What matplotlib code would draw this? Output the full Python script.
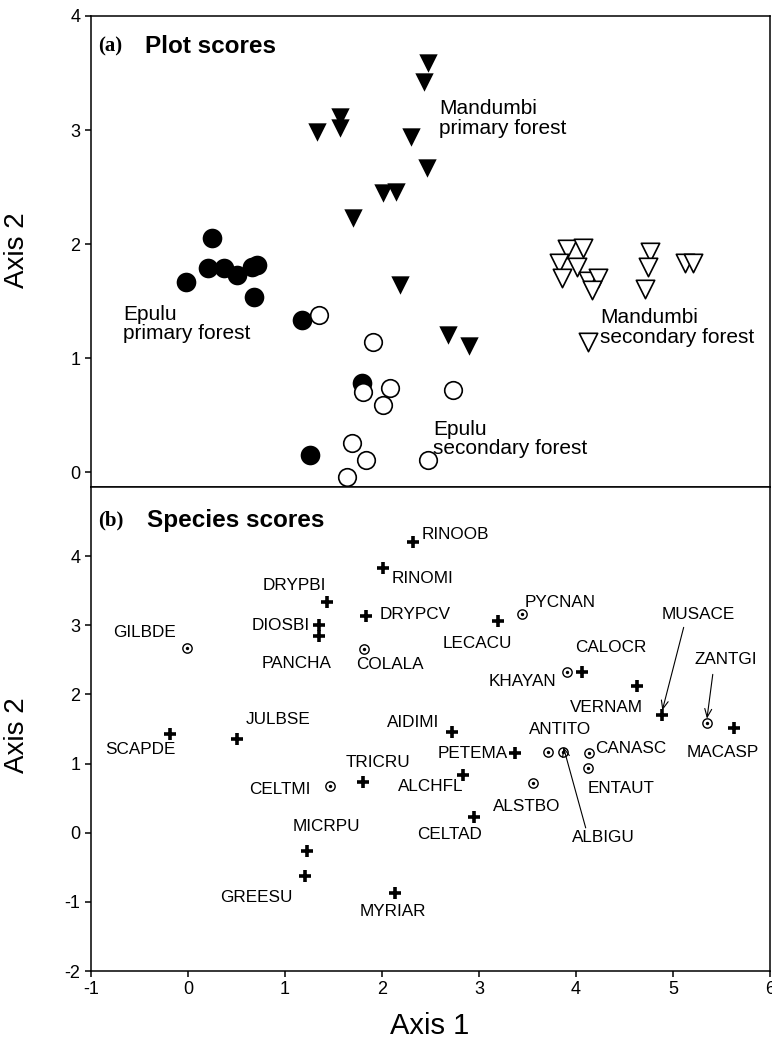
import matplotlib
matplotlib.use('Agg')
import matplotlib.pyplot as plt
from matplotlib import font_manager

# pick a narrow sans for ticks / axis titles if there is one
def has_font(name):
    try:
        font_manager.findfont(name, fallback_to_default=False)
        return True
    except Exception:
        return False

SANS = 'Liberation Sans'
NARROW = 'Liberation Sans Narrow' if has_font('Liberation Sans Narrow') else SANS
plt.rcParams['font.family'] = [SANS, 'DejaVu Sans']
plt.rcParams['axes.unicode_minus'] = False

# ---- (a) plot scores ----
mand_prim_x = [2.47, 2.43, 1.33, 1.57, 1.57, 2.30, 2.46, 2.01, 2.14, 1.70, 2.19, 2.68, 2.90]
mand_prim_y = [3.59, 3.42, 2.98, 3.11, 3.02, 2.94, 2.67, 2.45, 2.46, 2.23, 1.64, 1.20, 1.11]

epulu_prim_x = [0.25, -0.02, 0.21, 0.37, 0.50, 0.66, 0.71, 0.68, 1.18, 1.79, 1.26]
epulu_prim_y = [2.05, 1.67, 1.79, 1.79, 1.73, 1.80, 1.82, 1.54, 1.33, 0.78, 0.15]

epulu_sec_x = [1.35, 1.91, 1.80, 2.08, 2.01, 1.69, 1.84, 1.64, 2.47, 2.73]
epulu_sec_y = [1.38, 1.14, 0.70, 0.74, 0.59, 0.26, 0.11, -0.04, 0.11, 0.72]

mand_sec_x = [3.91, 4.07, 3.82, 4.01, 3.86, 4.12, 4.23, 4.16, 4.76, 4.74, 4.71, 5.12, 5.21, 4.12]
mand_sec_y = [1.96, 1.97, 1.83, 1.80, 1.70, 1.68, 1.70, 1.60, 1.93, 1.80, 1.61, 1.83, 1.83, 1.14]

# ---- (b) species scores ----
sp_names = ['RINOOB', 'RINOMI', 'DRYPBI', 'DIOSBI', 'PANCHA', 'DRYPCV', 'GILBDE', 'COLALA',
            'PYCNAN', 'LECACU', 'CALOCR', 'KHAYAN', 'VERNAM', 'MUSACE', 'ZANTGI', 'MACASP',
            'ANTITO', 'ALBIGU', 'CANASC', 'ENTAUT', 'ALSTBO', 'CELTAD', 'PETEMA', 'AIDIMI',
            'ALCHFL', 'TRICRU', 'CELTMI', 'JULBSE', 'SCAPDE', 'MICRPU', 'GREESU', 'MYRIAR']
sp_x = [2.32, 2.01, 1.43, 1.35, 1.35, 1.84, -0.01, 1.81,
        3.44, 3.20, 4.06, 3.91, 4.63, 4.89, 5.35, 5.63,
        3.71, 3.87, 4.13, 4.12, 3.56, 2.95, 3.37, 2.72,
        2.83, 1.80, 1.46, 0.51, -0.19, 1.23, 1.21, 2.13]
sp_y = [4.20, 3.83, 3.33, 3.01, 2.84, 3.13, 2.67, 2.65,
        3.16, 3.06, 2.33, 2.32, 2.12, 1.70, 1.58, 1.52,
        1.17, 1.17, 1.16, 0.93, 0.72, 0.23, 1.16, 1.46,
        0.84, 0.74, 0.67, 1.36, 1.43, -0.26, -0.62, -0.87]
# 'p' = plus, 'd' = circled dot
sp_kind = ['p', 'p', 'p', 'p', 'p', 'p', 'd', 'd',
           'd', 'p', 'p', 'd', 'p', 'p', 'd', 'p',
           'd', 'd', 'd', 'd', 'd', 'p', 'p', 'p',
           'p', 'p', 'd', 'p', 'p', 'p', 'p', 'p']

# label placement (x, y, ha) in data units
sp_label = {
    'RINOOB': (2.41, 4.32, 'left'), 'RINOMI': (2.10, 3.67, 'left'),
    'DRYPBI': (1.42, 3.57, 'right'), 'DIOSBI': (1.26, 3.00, 'right'),
    'PANCHA': (1.48, 2.45, 'right'), 'DRYPCV': (1.98, 3.16, 'left'),
    'GILBDE': (-0.12, 2.90, 'right'), 'COLALA': (1.73, 2.43, 'left'),
    'PYCNAN': (3.47, 3.33, 'left'), 'LECACU': (2.63, 2.74, 'left'),
    'CALOCR': (3.99, 2.68, 'left'), 'KHAYAN': (3.80, 2.19, 'right'),
    'VERNAM': (3.94, 1.81, 'left'), 'MUSACE': (4.88, 3.16, 'left'),
    'ZANTGI': (5.22, 2.51, 'left'), 'MACASP': (5.14, 1.16, 'left'),
    'ANTITO': (3.51, 1.49, 'left'), 'ALBIGU': (3.96, -0.07, 'left'),
    'CANASC': (4.20, 1.22, 'left'), 'ENTAUT': (4.12, 0.64, 'left'),
    'ALSTBO': (3.14, 0.38, 'left'), 'CELTAD': (2.36, -0.03, 'left'),
    'PETEMA': (2.57, 1.14, 'left'), 'AIDIMI': (2.05, 1.59, 'left'),
    'ALCHFL': (2.16, 0.67, 'left'), 'TRICRU': (1.62, 1.01, 'left'),
    'CELTMI': (0.63, 0.62, 'left'), 'JULBSE': (0.59, 1.64, 'left'),
    'SCAPDE': (-0.85, 1.20, 'left'), 'MICRPU': (1.08, 0.09, 'left'),
    'GREESU': (0.33, -0.93, 'left'), 'MYRIAR': (1.77, -1.14, 'left'),
}
# arrows: name -> tail (x, y)
sp_arrow = {'MUSACE': (5.11, 2.97), 'ZANTGI': (5.41, 2.29), 'ALBIGU': (4.10, 0.07)}

fig = plt.figure(figsize=(7.72, 10.56), dpi=100)
L, R = 91 / 772, 770 / 772
ax1 = fig.add_axes([L, 1 - 487 / 1056, R - L, (487 - 16) / 1056])
ax2 = fig.add_axes([L, 1 - 971 / 1056, R - L, (971 - 487) / 1056])

# panel a
ax1.scatter(mand_prim_x, mand_prim_y, marker='v', s=175, c='black', linewidths=0)
ax1.scatter(epulu_prim_x, epulu_prim_y, marker='o', s=200, c='black', linewidths=0)
ax1.scatter(epulu_sec_x, epulu_sec_y, marker='o', s=160, facecolors='white',
            edgecolors='black', linewidths=1.2)
ax1.scatter(mand_sec_x, mand_sec_y, marker='v', s=175, facecolors='white',
            edgecolors='black', linewidths=1.2)

txt = dict(fontsize=15, linespacing=1.05, va='center', ha='left')
ax1.text(2.59, 3.10, 'Mandumbi\nprimary forest', **txt)
ax1.text(-0.67, 1.30, 'Epulu\nprimary forest', **txt)
ax1.text(4.25, 1.27, 'Mandumbi\nsecondary forest', **txt)
ax1.text(2.53, 0.29, 'Epulu\nsecondary forest', **txt)
ax1.text(-0.93, 3.73, '(a)', fontsize=15, fontweight='bold', family='Liberation Serif', va='center')
ax1.text(-0.44, 3.73, 'Plot scores', fontsize=17.5, fontweight='bold', va='center')

ax1.set_xlim(-1, 6)
ax1.set_ylim(-0.13, 4)
ax1.set_yticks([0, 1, 2, 3, 4])
ax1.tick_params(axis='x', bottom=False, labelbottom=False)

# panel b
for name, x, y, k in zip(sp_names, sp_x, sp_y, sp_kind):
    if k == 'p':
        ax2.scatter(x, y, marker='+', s=85, c='black', linewidths=2.6)
    else:
        ax2.scatter(x, y, marker='o', s=45, facecolors='white', edgecolors='black', linewidths=1.0)
        ax2.scatter(x, y, marker='o', s=6, c='black', linewidths=0)
    lx, ly, ha = sp_label[name]
    ax2.text(lx, ly, name, fontsize=12.3, ha=ha, va='center')
    if name in sp_arrow:
        ax2.annotate('', xy=(x, y + 0.07), xytext=sp_arrow[name],
                     arrowprops=dict(arrowstyle='->,head_length=0.6,head_width=0.25',
                                     lw=0.8, color='black', shrinkA=0, shrinkB=0))

ax2.text(-0.93, 4.51, '(b)', fontsize=15, fontweight='bold', family='Liberation Serif', va='center')
ax2.text(-0.42, 4.51, 'Species scores', fontsize=17.5, fontweight='bold', va='center')

ax2.set_xlim(-1, 6)
ax2.set_ylim(-2, 5)
ax2.set_xticks(range(-1, 7))
ax2.set_yticks(range(-2, 5))
ax2.set_xlabel('Axis 1', fontsize=21, family=NARROW)
ax2.xaxis.set_label_coords(0.499, -0.085)

for ax, yc in ((ax1, 0.503), (ax2, 0.488)):
    for s in ax.spines.values():
        s.set_linewidth(1.1)
    ax.tick_params(direction='out', length=4, width=1.1, labelsize=13)
    for lab in ax.get_xticklabels() + ax.get_yticklabels():
        lab.set_family(NARROW)
    ax.set_ylabel('Axis 2', fontsize=20, family=NARROW)
    ax.yaxis.set_label_coords(-0.09, yc)

fig.savefig('out.png', dpi=100)
